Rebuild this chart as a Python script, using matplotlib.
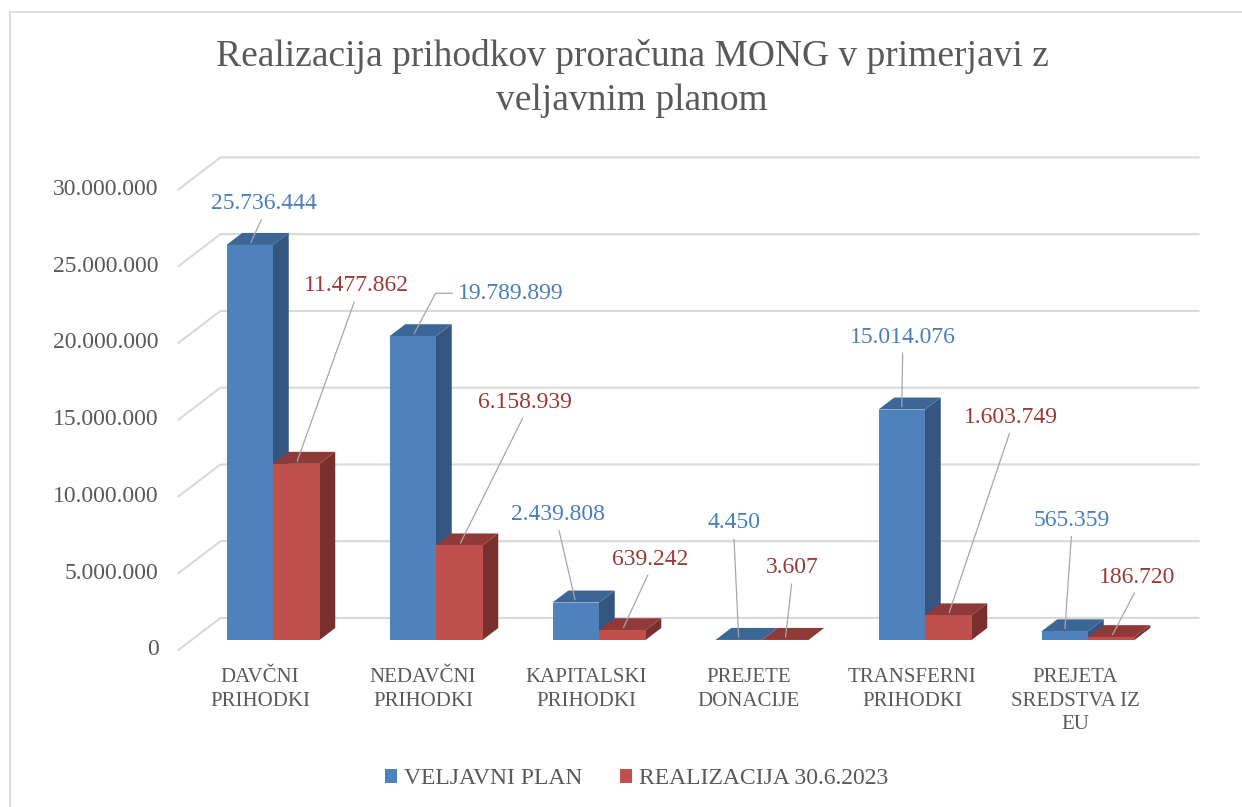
import matplotlib
matplotlib.use("Agg")
import matplotlib.pyplot as plt
from matplotlib.patches import Polygon, Rectangle, Patch
from matplotlib.lines import Line2D

plt.rcParams['font.family'] = ['Liberation Serif', 'DejaVu Serif']

categories = ["DAVČNI\nPRIHODKI", "NEDAVČNI\nPRIHODKI", "KAPITALSKI\nPRIHODKI",
              "PREJETE\nDONACIJE", "TRANSFERNI\nPRIHODKI", "PREJETA\nSREDSTVA IZ\nEU"]
plan = [25736444, 19789899, 2439808, 4450, 15014076, 565359]
realizacija = [11477862, 6158939, 639242, 3607, 1603749, 186720]
series_names = ["VELJAVNI PLAN", "REALIZACIJA 30.6.2023"]
yticks = [0, 5000000, 10000000, 15000000, 20000000, 25000000, 30000000]
title = "Realizacija prihodkov proračuna MONG v primerjavi z\nveljavnim planom"

# label placement (pixel offsets from bar top, y up)
plan_label_off = [(14, 41), (98, 43), (-18, 88), (-5, 117), (1, 72), (7, 111)]
real_label_off = [(60, 178), (66, 143), (28, 71), (7, 72), (63, 198), (26, 60)]

BLUE = ('#4F81BD', '#3C6696', '#335681')   # front, top, side
RED = ('#C0504D', '#8F3A38', '#7B2F2D')
BLUE_TXT = '#4A7EBB'
RED_TXT = '#993A37'
GRAY = '#595959'
GRID = '#D9D9D9'

W, H, DPI = 1242, 807, 100
GROUP_PX = 163.0          # pixels per category
VAL_PX = 15.35e-6         # pixels per unit value
X0_PX, BASE_PX = 273, 640

fig = plt.figure(figsize=(W / DPI, H / DPI), dpi=DPI)
ax = fig.add_axes([0, 0, 1, 1])
ax.set_xlim(-X0_PX / GROUP_PX, (W - X0_PX) / GROUP_PX)
ax.set_ylim(-(H - BASE_PX) / VAL_PX, BASE_PX / VAL_PX)
ax.axis('off')

DEPTH_X = 42 / GROUP_PX
DEPTH_Y = 32 / VAL_PX
BAR_FRONT = 0.31
BAR_DEPTH = 0.375
BW = 46.5 / GROUP_PX


def proj(x, v, d):
    return (x + (d - BAR_FRONT) * DEPTH_X, v + (d - BAR_FRONT) * DEPTH_Y)


# walls / gridlines
for t in yticks:
    p0 = proj(-0.5, t, 0)
    p1 = proj(-0.5, t, 1)
    p2 = proj(5.5, t, 1)
    ax.plot([p0[0], p1[0], p2[0]], [p0[1], p1[1], p2[1]], color=GRID, lw=1.5,
            solid_joinstyle='miter', zorder=1)
    ax.annotate(f"{t:,}".replace(",", "."), xy=p0, xytext=(-20, 0),
                textcoords='offset pixels', ha='right', va='center',
                fontsize=17, color=GRAY)


def bar3d(x0, v, cols):
    dx, dy = BAR_DEPTH * DEPTH_X, BAR_DEPTH * DEPTH_Y
    ax.add_patch(Polygon([(x0 + BW, 0), (x0 + BW, v), (x0 + BW + dx, v + dy),
                          (x0 + BW + dx, dy)], closed=True, fc=cols[2], lw=0, zorder=3))
    ax.add_patch(Polygon([(x0, v), (x0 + BW, v), (x0 + BW + dx, v + dy), (x0 + dx, v + dy)],
                         closed=True, fc=cols[1], lw=0, zorder=3))
    ax.add_patch(Rectangle((x0, 0), BW, v, fc=cols[0], lw=0, zorder=3))


leader = dict(arrowstyle='-', color='#A6A6A6', lw=0.9, relpos=(0.5, 0))
for i in range(len(categories)):
    bar3d(i - BW, plan[i], BLUE)
    bar3d(i, realizacija[i], RED)

for i in range(len(categories)):
    ap = dict(leader)
    if i == 1:
        ap.update(relpos=(0, 0.5), connectionstyle='angle,angleA=0,angleB=62,rad=0')
    ax.annotate(f"{plan[i]:,}".replace(",", "."), xy=(i - BW / 2, plan[i]),
                xytext=plan_label_off[i], textcoords='offset pixels',
                ha='center', va='center', fontsize=17, color=BLUE_TXT,
                arrowprops=ap, zorder=5)
    ax.annotate(f"{realizacija[i]:,}".replace(",", "."), xy=(i + BW / 2, realizacija[i]),
                xytext=real_label_off[i], textcoords='offset pixels',
                ha='center', va='center', fontsize=17, color=RED_TXT,
                arrowprops=dict(leader), zorder=5)
    ax.annotate(categories[i], xy=proj(i, 0, 0), xytext=(0, -18),
                textcoords='offset pixels', ha='center', va='top',
                fontsize=15, color=GRAY, linespacing=1.33)

fig.text(632 / W, 1 - 39 / H, title, ha='center', va='top', fontsize=27,
         color=GRAY, linespacing=1.36)

handles = [Patch(fc=BLUE[0], lw=0), Patch(fc=RED[0], lw=0)]
fig.legend(handles, series_names, loc='center', bbox_to_anchor=(636.5 / W, 1 - 779 / H),
           ncol=2, frameon=False, fontsize=17, labelcolor=GRAY,
           handlelength=0.5, handleheight=0.5, handletextpad=0.3, columnspacing=1.6)

# chart border
fig.add_artist(Line2D([10 / W, 10 / W], [0, 1 - 12 / H], color=GRID, lw=1.2))
fig.add_artist(Line2D([10 / W, 1], [1 - 12 / H, 1 - 12 / H], color=GRID, lw=1.2))

fig.savefig('out.png', dpi=DPI)
